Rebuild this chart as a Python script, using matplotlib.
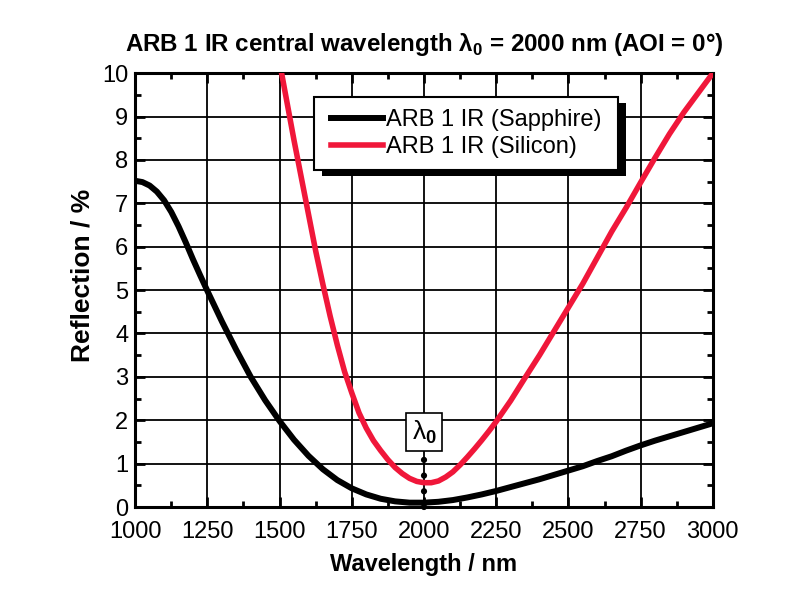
import numpy as np
import matplotlib
matplotlib.use('Agg')
import matplotlib.pyplot as plt
from matplotlib.patches import Rectangle
from matplotlib.transforms import IdentityTransform
from matplotlib.ticker import MultipleLocator

plt.rcParams['font.family'] = ['Liberation Sans', 'DejaVu Sans']
plt.rcParams['mathtext.fontset'] = 'custom'
plt.rcParams['mathtext.rm'] = 'Liberation Sans'
plt.rcParams['mathtext.bf'] = 'Liberation Sans:bold'

# --- data (wavelength in nm, reflection in %) ---
wl_sa = [1000, 1025, 1050, 1075, 1100, 1125, 1150, 1175, 1200, 1225,
         1250, 1300, 1350, 1400, 1450, 1500, 1550, 1600, 1650, 1700,
         1750, 1800, 1850, 1900, 1950, 2000, 2050, 2100, 2150, 2200,
         2250, 2300, 2350, 2400, 2450, 2500, 2550, 2600, 2650, 2700,
         2750, 2800, 2850, 2900, 2950, 3000]
sapphire = [7.52, 7.49, 7.41, 7.27, 7.07, 6.80, 6.47, 6.10, 5.71, 5.34,
            4.98, 4.28, 3.62, 3.00, 2.46, 1.98, 1.55, 1.18, 0.87, 0.62,
            0.43, 0.29, 0.19, 0.13, 0.10, 0.10, 0.12, 0.16, 0.22, 0.29,
            0.37, 0.46, 0.55, 0.64, 0.74, 0.84, 0.94, 1.06, 1.17, 1.30,
            1.42, 1.53, 1.63, 1.73, 1.83, 1.93]

wl_si = [1500, 1525, 1550, 1575, 1600, 1625, 1650, 1675, 1700, 1725,
         1750, 1775, 1800, 1825, 1850, 1875, 1900, 1925, 1950, 1975,
         2000, 2025, 2050, 2075, 2100, 2125, 2150, 2175, 2200, 2225,
         2250, 2300, 2350, 2400, 2450, 2500, 2550, 2600, 2650, 2700,
         2750, 2800, 2850, 2900, 2950, 3000]
silicon = [10.25, 9.35, 8.45, 7.60, 6.75, 5.90, 5.13, 4.40, 3.73, 3.12,
           2.63, 2.17, 1.82, 1.53, 1.30, 1.09, 0.91, 0.77, 0.66, 0.59,
           0.56, 0.56, 0.60, 0.69, 0.81, 0.97, 1.15, 1.34, 1.54, 1.75,
           1.97, 2.45, 2.98, 3.50, 4.05, 4.60, 5.15, 5.75, 6.35, 6.90,
           7.48, 8.05, 8.60, 9.10, 9.55, 10.0]

lambda0 = 2000
red = '#f0173a'

fig = plt.figure(figsize=(8, 6), dpi=100)
ax = fig.add_axes([0.169, 0.155, 0.722, 0.723])

ax.plot(wl_sa, sapphire, color='black', lw=4.3, label='ARB 1 IR (Sapphire)', zorder=3)
ax.plot(wl_si, silicon, color=red, lw=4.0, label='ARB 1 IR (Silicon)', zorder=3)

# dotted marker line at lambda0
ax.plot([lambda0, lambda0], [0, 1.1], color='black', lw=4.5,
        linestyle=(0, (0.01, 2.5)), dash_capstyle='round', zorder=4, clip_on=False)
ax.text(lambda0, 1.72, 'λ$_\\mathbf{0}$', ha='center', va='center', fontsize=19,
        bbox=dict(boxstyle='square,pad=0.2', fc='white', ec='black', lw=1.2), zorder=5)

ax.set_xlim(1000, 3000)
ax.set_ylim(0, 10)
ax.xaxis.set_major_locator(MultipleLocator(250))
ax.xaxis.set_minor_locator(MultipleLocator(125))
ax.yaxis.set_major_locator(MultipleLocator(1))
ax.yaxis.set_minor_locator(MultipleLocator(0.5))
ax.grid(True, which='major', color='black', lw=1.3)
ax.set_axisbelow(True)
ax.tick_params(which='both', direction='in', top=True, right=True, width=2, labelsize=17)
ax.tick_params(axis='x', which='major', length=7, pad=10)
ax.tick_params(axis='y', which='major', length=7, pad=5)
ax.tick_params(which='minor', length=4)
for s in ax.spines.values():
    s.set_linewidth(2.2)

ax.set_xlabel('Wavelength / nm', fontsize=17, fontweight='bold', labelpad=7)
ax.set_ylabel('Reflection / %', fontsize=19, fontweight='bold')
ax.yaxis.set_label_coords(-0.071, 0.535)
ax.set_title('ARB 1 IR central wavelength λ$_\\mathbf{0}$ = 2000 nm (AOI = 0°)',
             fontsize=17.4, fontweight='bold', pad=16)

leg = ax.legend(loc='upper left', bbox_to_anchor=(0.318, 0.944), borderaxespad=0,
                frameon=False, fontsize=17,
                handlelength=2.2, handletextpad=0.15, borderpad=0.5, labelspacing=0.2)
leg.set_zorder(6)

# legend frame (wider side padding) with a black drop shadow
fig.canvas.draw()
bb = leg.get_window_extent()
dx = 5
frame = Rectangle((bb.x0 - dx, bb.y0), bb.width + 2 * dx, bb.height, transform=IdentityTransform(),
                  facecolor='white', edgecolor='black', lw=1.5, zorder=5.8, clip_on=False)
shadow = Rectangle((bb.x0 - dx + 8, bb.y0 - 6), bb.width + 2 * dx, bb.height,
                   transform=IdentityTransform(),
                   facecolor='black', edgecolor='none', zorder=5.5, clip_on=False)
ax.add_artist(shadow)
ax.add_artist(frame)

fig.savefig('out.png', dpi=100)
